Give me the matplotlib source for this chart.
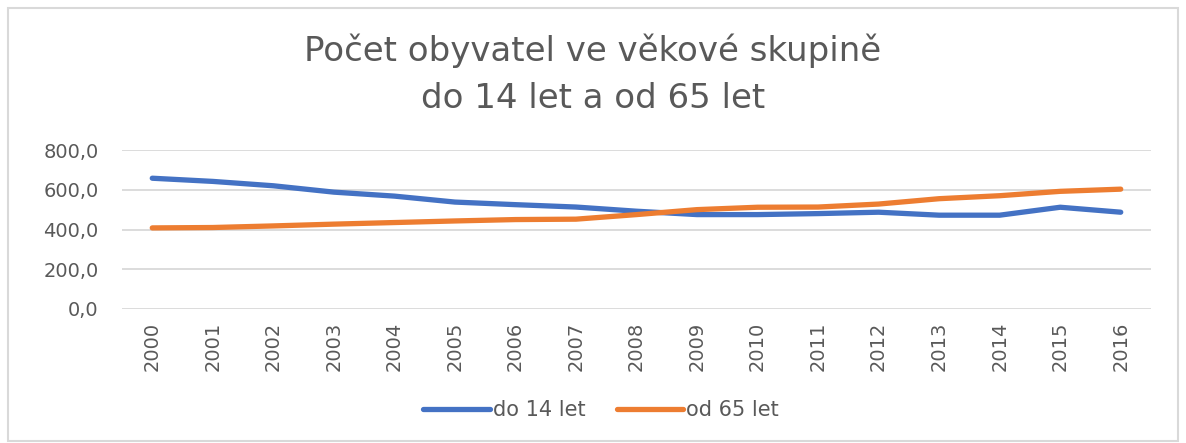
import matplotlib
matplotlib.use("Agg")
import matplotlib.pyplot as plt
from matplotlib.patches import Rectangle
from matplotlib.lines import Line2D

years = ["2000", "2001", "2002", "2003", "2004", "2005", "2006", "2007", "2008",
         "2009", "2010", "2011", "2012", "2013", "2014", "2015", "2016"]
do14 = [658, 642, 620, 588, 568, 538, 525, 513, 492, 475, 475, 480, 487, 472, 472, 512, 487]
od65 = [408, 410, 418, 427, 435, 443, 450, 452, 475, 500, 512, 513, 528, 555, 570, 592, 603]
series_names = ["do 14 let", "od 65 let"]
title_lines = ["Počet obyvatel ve věkové skupině", "do 14 let a od 65 let"]
yticks = [0, 200, 400, 600, 800]

plt.rcParams["font.family"] = ["DejaVu Sans"]

BLUE = "#4472C4"
ORANGE = "#ED7D31"
GREY = "#595959"

fig = plt.figure(figsize=(11.86, 4.43), dpi=100)
ax = fig.add_axes([122/1186, (443-309)/443, (1151-122)/1186, (309-150)/443])

x = list(range(len(years)))
ax.plot(x, do14, color=BLUE, lw=3.8, solid_capstyle="round", zorder=3)
ax.plot(x, od65, color=ORANGE, lw=3.8, solid_capstyle="round", zorder=3)

ax.set_xlim(-0.5, len(years) - 0.5)
ax.set_ylim(0, 800)
ax.set_yticks(yticks)
ax.set_yticklabels([f"{v:.1f}".replace(".", ",") for v in yticks])
ax.set_xticks(x)
ax.set_xticklabels(years, rotation=90)
ax.grid(axis="y", color="#D9D9D9", lw=1.3)
ax.set_axisbelow(True)
for s in ax.spines.values():
    s.set_visible(False)
ax.tick_params(axis="both", length=0, colors=GREY, labelsize=14)
ax.tick_params(axis="y", pad=17)
ax.tick_params(axis="x", pad=9)

fig.text(0.5, 1 - 51/443, title_lines[0], ha="center", va="center", fontsize=24.5,
         color=GREY)
fig.text(0.5, 1 - 98/443, title_lines[1], ha="center", va="center", fontsize=24.5,
         color=GREY)

handles = [Line2D([], [], color=BLUE, lw=3.8, solid_capstyle="round"),
           Line2D([], [], color=ORANGE, lw=3.8, solid_capstyle="round")]
leg = fig.legend(handles, series_names, loc="center", bbox_to_anchor=(601/1186, 1 - 410/443),
                 ncol=2, frameon=False, handlelength=3.2, handletextpad=0.15, columnspacing=1.5,
                 prop={"size": 15})
for t in leg.get_texts():
    t.set_color(GREY)

fig.add_artist(Rectangle((8/1186, 2/443), 1170/1186, 433/443, transform=fig.transFigure,
                         fill=False, edgecolor="#D9D9D9", lw=1.5))

fig.savefig("out.png", dpi=100, facecolor="white")
